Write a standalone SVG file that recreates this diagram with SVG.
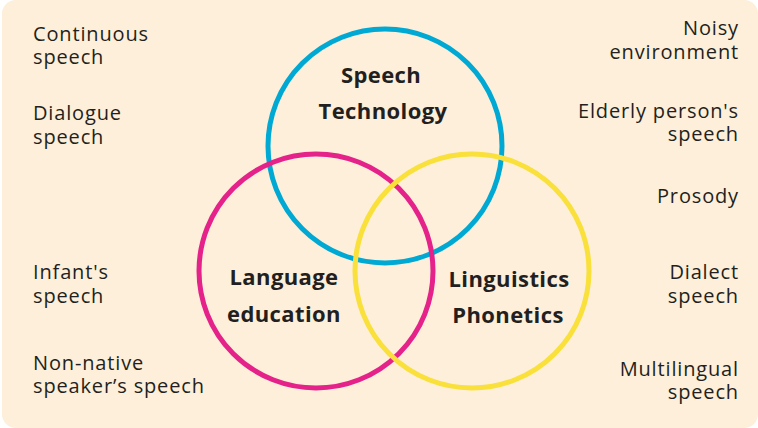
<svg xmlns="http://www.w3.org/2000/svg" width="758" height="428" viewBox="0 0 758 428">
<style>
.bg{fill:#FDEFD9}
.c{fill:none;stroke-width:5}
.t{font-family:"Open Sans","Noto Sans","Liberation Sans",sans-serif;font-size:20px;letter-spacing:0.85px;fill:#231F20}
.r{text-anchor:end}
.b{font-family:"Open Sans","Noto Sans","Liberation Sans",sans-serif;font-size:22px;letter-spacing:0.4px;font-weight:bold;fill:#231F20;text-anchor:middle}
</style>
<rect class="bg" x="2" y="0" width="756" height="428" rx="14"/>
<g id="connectors"></g>
<g id="speech-technology">
<circle class="c" cx="385" cy="146" r="117" stroke="#00A9D4"/>
<text class="b" x="381" y="83">Speech</text>
<text class="b" x="383" y="119">Technology</text>
</g>
<g id="language-education">
<circle class="c" cx="316" cy="271" r="117" stroke="#E5218A"/>
<text class="b" x="284" y="285">Language</text>
<text class="b" x="284" y="322">education</text>
</g>
<g id="linguistics-phonetics">
<circle class="c" cx="472" cy="271" r="117" stroke="#F9E03A"/>
<text class="b" x="509" y="287">Linguistics</text>
<text class="b" x="508" y="323">Phonetics</text>
</g>
<g id="left-labels">
<text class="t" x="33" y="41">Continuous</text>
<text class="t" x="33" y="64">speech</text>
<text class="t" x="33" y="120">Dialogue</text>
<text class="t" x="33" y="144">speech</text>
<text class="t" x="33" y="279">Infant's</text>
<text class="t" x="33" y="303">speech</text>
<text class="t" x="33" y="370">Non-native</text>
<text class="t" x="33" y="393">speaker’s speech</text>
</g>
<g id="right-labels">
<text class="t r" x="739" y="35">Noisy</text>
<text class="t r" x="739" y="59">environment</text>
<text class="t r" x="739" y="118">Elderly person's</text>
<text class="t r" x="739" y="141">speech</text>
<text class="t r" x="739" y="203">Prosody</text>
<text class="t r" x="739" y="279">Dialect</text>
<text class="t r" x="739" y="303">speech</text>
<text class="t r" x="739" y="376">Multilingual</text>
<text class="t r" x="739" y="399">speech</text>
</g>
</svg>
